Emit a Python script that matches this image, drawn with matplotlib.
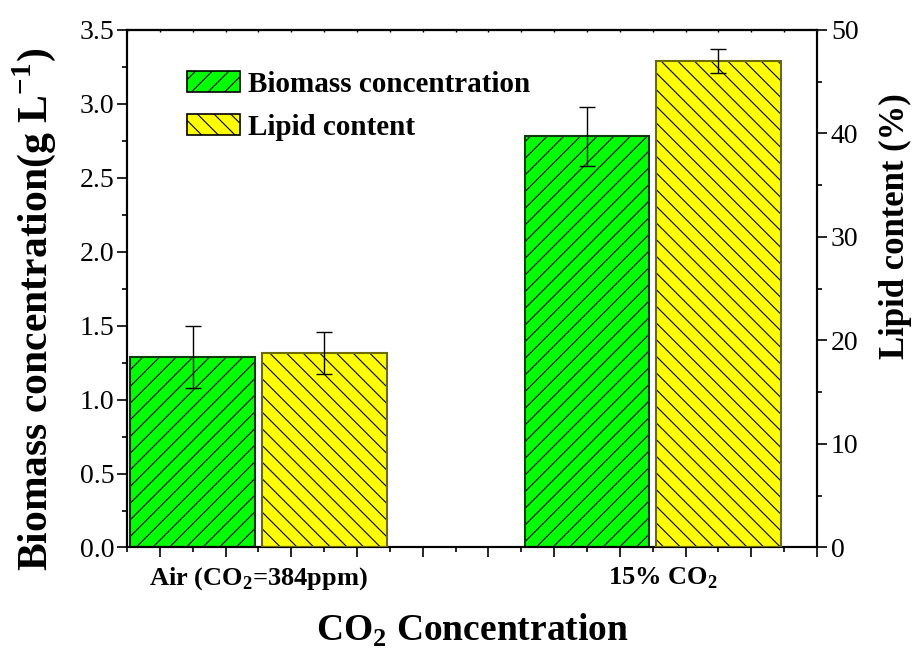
import matplotlib
matplotlib.use("Agg")
import matplotlib.pyplot as plt
from matplotlib.patches import Patch
from matplotlib.ticker import MultipleLocator

plt.rcParams['font.family'] = ['Liberation Serif', 'DejaVu Serif']
plt.rcParams['mathtext.fontset'] = 'custom'
plt.rcParams['mathtext.rm'] = 'Liberation Serif'
plt.rcParams['mathtext.bf'] = 'Liberation Serif:bold'
plt.rcParams['hatch.linewidth'] = 0.8

# CO2 treatments
groups = ['Air (CO$_\\mathbf{2}$=384ppm)', '15% CO$_\\mathbf{2}$']
group_pos = [4, 16]

# biomass (g/L) on the left axis, lipid content (%) on the right axis
biomass = [1.29, 2.78]
biomass_err = [0.21, 0.20]
lipid = [18.8, 47.0]
lipid_err = [2.0, 1.2]

green = '#00ff00'
yellow = '#ffff00'
bar_w = 3.8
off = 2.0

fig, ax = plt.subplots(figsize=(9.17, 6.51), dpi=100)
fig.subplots_adjust(left=0.1385, right=0.891, top=0.954, bottom=0.159)
ax2 = ax.twinx()

xb = [p - off for p in group_pos]
xl = [p + off for p in group_pos]

# filled bars with black hatching, then the outline on top
ax.bar(xb, biomass, bar_w, color=green, edgecolor='k', hatch='//', linewidth=0, zorder=2)
ax.bar(xb, biomass, bar_w, fill=False, edgecolor='#0d3b0d', linewidth=1.5, zorder=3)
ax.errorbar(xb, biomass, yerr=biomass_err, fmt='none', ecolor='k', elinewidth=1.0,
            capsize=6, capthick=1.0, zorder=4)

ax2.bar(xl, lipid, bar_w, color=yellow, edgecolor='k', hatch='\\\\', linewidth=0, zorder=2)
ax2.bar(xl, lipid, bar_w, fill=False, edgecolor='#6b6b00', linewidth=1.5, zorder=3)
ax2.errorbar(xl, lipid, yerr=lipid_err, fmt='none', ecolor='k', elinewidth=1.0,
             capsize=6, capthick=1.0, zorder=4)

ax.set_xlim(0, 21)
ax.set_ylim(0, 3.5)
ax2.set_ylim(0, 50)

ax.xaxis.set_major_locator(MultipleLocator(2, offset=1))
ax.xaxis.set_minor_locator(MultipleLocator(1))
ax.set_xticklabels([])
ax.yaxis.set_major_locator(MultipleLocator(0.5))
ax.yaxis.set_minor_locator(MultipleLocator(0.25))
ax2.yaxis.set_major_locator(MultipleLocator(10))
ax2.yaxis.set_minor_locator(MultipleLocator(5))

for a in (ax, ax2):
    for s in a.spines.values():
        s.set_linewidth(1.5)

ax.tick_params(axis='x', which='major', direction='out', length=7, width=1.2, labelbottom=False)
ax.tick_params(axis='x', which='minor', direction='out', length=3.5, width=1.2)
ax.tick_params(axis='y', which='major', direction='out', length=7, width=1.2,
               labelsize=20, pad=2)
ax.tick_params(axis='y', which='minor', direction='out', length=3.5, width=1.2)
ax2.tick_params(axis='y', which='major', direction='out', length=7, width=1.2,
                labelsize=20, pad=3)
ax2.tick_params(axis='y', which='minor', direction='out', length=3.5, width=1.2)

# faint ticks along the top frame
top = ax.secondary_xaxis('top')
top.xaxis.set_major_locator(MultipleLocator(1))
top.tick_params(axis='x', direction='in', length=1.5, width=1.0, labeltop=False)
top.spines['top'].set_linewidth(1.5)

# category labels under each pair of bars
for p, g in zip(group_pos, groups):
    ax.text(p + (0.3 if p > 10 else 0), -0.035, g, transform=ax.get_xaxis_transform(),
            ha='center', va='top', fontsize=19, fontweight='bold')

ax.set_xlabel('CO$_\\mathbf{2}$ Concentration', fontsize=27, fontweight='bold')
ax.xaxis.set_label_coords(0.5, -0.124)
ax.set_ylabel('Biomass concentration(g L$^\\mathbf{-1}$)', fontsize=30, fontweight='bold')
ax.yaxis.set_label_coords(-0.1, 0.46)
ax2.set_ylabel('Lipid content (%)', fontsize=25, fontweight='bold')
ax2.yaxis.set_label_coords(1.09, 0.62)

handles = [Patch(facecolor=green, edgecolor='k', hatch='//', linewidth=1.2),
           Patch(facecolor=yellow, edgecolor='k', hatch='\\\\', linewidth=1.2)]
ax.legend(handles, ['Biomass concentration', 'Lipid content'], loc='upper left',
          bbox_to_anchor=(0.049, 0.972), frameon=False,
          prop={'weight': 'bold', 'size': 21}, handlelength=1.8, handleheight=0.75,
          handletextpad=0.3, labelspacing=0.55)

fig.savefig('out.png', dpi=100)
